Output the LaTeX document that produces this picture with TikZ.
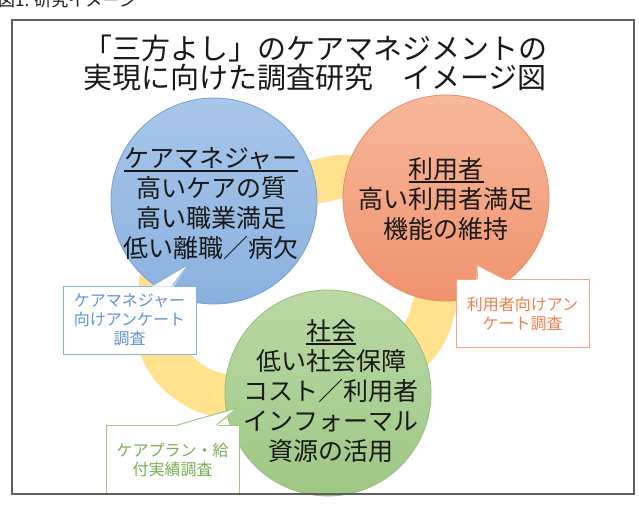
\documentclass[tikz,border=0pt]{standalone}
\usepackage{fontspec}
\setmainfont{Noto Sans CJK JP}
\usetikzlibrary{calc}

\definecolor{inkblack}{RGB}{25,25,25}
\definecolor{framegray}{RGB}{95,95,95}
\definecolor{ringyellow}{RGB}{255,225,142}
\definecolor{bluetop}{RGB}{168,199,234}
\definecolor{bluebottom}{RGB}{138,177,222}
\definecolor{blueline}{RGB}{115,158,208}
\definecolor{orangetop}{RGB}{247,184,155}
\definecolor{orangebottom}{RGB}{240,146,110}
\definecolor{orangeline}{RGB}{232,138,98}
\definecolor{greentop}{RGB}{186,217,165}
\definecolor{greenbottom}{RGB}{158,199,132}
\definecolor{greenline}{RGB}{145,190,115}
\definecolor{bluenote}{RGB}{95,148,208}
\definecolor{orangenote}{RGB}{236,128,76}
\definecolor{greennote}{RGB}{118,174,80}

% underline used for the three headings
\newcommand{\headrule}[1]{\setbox0\hbox{#1}\leavevmode\rlap{\rule[-3.6pt]{\wd0}{1.6pt}}\box0}

\tikzset{
  ball/.style={circle, minimum size=206pt, inner sep=0pt, line width=0.8pt},
  balltext/.style={align=center, text=inkblack, font=\fontsize{25}{30}\selectfont},
  titletext/.style={align=center, text=inkblack, font=\fontsize{29}{29}\selectfont},
  notebox/.style={rectangle, fill=white, line width=1pt, align=center, inner sep=0pt,
    minimum width=133pt, minimum height=68pt, font=\fontsize{16}{19}\selectfont},
  ringband/.style={draw=ringyellow, line width=44pt},
  frameline/.style={draw=framegray, line width=1.6pt}
}

\begin{document}
\begin{tikzpicture}[x=1pt, y=-1pt]
  \useasboundingbox (0,0) rectangle (639,506);
  % caption, cut at the top edge as in the page it comes from
  \node[anchor=base west, inner sep=0pt, text=inkblack, font=\fontsize{17}{17}\selectfont] (caption) at (-2,6) {図1. 研究イメージ};
  % title
  \node[titletext] (title) at (315,62.5) {「三方よし」のケアマネジメントの\\実現に向けた調査研究　イメージ図};
  % yellow ring behind the circles
  \draw[ringband] plot[smooth cycle, tension=0.7] coordinates {(308,183) (352,177) (410,190) (445,245) (436,300) (410,352) (330,415) (240,400) (189,382) (160,344) (159,300) (175,240) (230,195)};
  % three circles
  \node[ball, draw=blueline, top color=bluetop, bottom color=bluebottom] (mgr) at (214,201) {};
  \node[ball, draw=orangeline, top color=orangetop, bottom color=orangebottom] (user) at (446,198) {};
  \node[ball, draw=greenline, top color=greentop, bottom color=greenbottom] (society) at (328,393) {};
  \node[balltext] (mgrtext) at (211,204) {\headrule{ケアマネジャー}\\高いケアの質\\高い職業満足\\低い離職／病欠};
  \node[balltext] (usertext) at (446,199.5) {\headrule{利用者}\\高い利用者満足\\機能の維持};
  \node[balltext] (societytext) at (331,391.5) {\headrule{社会}\\低い社会保障\\コスト／利用者\\インフォーマル\\資源の活用};
  % callouts
  \coordinate (mgrtip) at (189,264);
  \coordinate (usertip) at (477,265);
  \coordinate (societytip) at (237,408);
  \node[notebox, draw=bluenote!75, text=bluenote] (mgrnote) at (129.5,320) {ケアマネジャー\\向けアンケート\\調査};
  \fill[white] ($(mgrnote.north west)+(89,1)$) -- (mgrtip) -- ($(mgrnote.north west)+(111,1)$) -- cycle;
  \draw[bluenote!75, line width=1pt] ($(mgrnote.north west)+(90,0)$) -- (mgrtip) -- ($(mgrnote.north west)+(110,0)$);
  \node[notebox, draw=orangenote!70, text=orangenote] (usernote) at (522.5,313.5) {利用者向けアン\\ケート調査};
  \fill[white] ($(usernote.north west)+(21,1)$) -- (usertip) -- ($(usernote.north west)+(50,1)$) -- cycle;
  \draw[orangenote!70, line width=1pt] ($(usernote.north west)+(22,0)$) -- (usertip) -- ($(usernote.north west)+(49,0)$);
  \node[notebox, draw=greennote!70, text=greennote] (societynote) at (172.5,459.5) {ケアプラン・給\\付実績調査};
  \fill[white] ($(societynote.north west)+(71,1)$) -- (societytip) -- ($(societynote.north west)+(112,1)$) -- cycle;
  \draw[greennote!70, line width=1pt] ($(societynote.north west)+(72,0)$) -- (societytip) -- ($(societynote.north west)+(111,0)$);
  % outer frame
  \draw[frameline] (12,20) rectangle (634,494);
\end{tikzpicture}
\end{document}
